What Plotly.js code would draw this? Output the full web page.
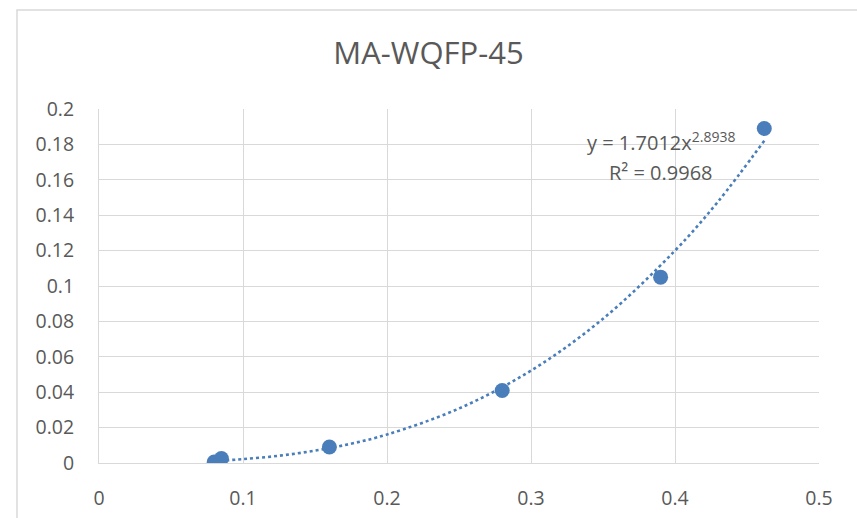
<!DOCTYPE html>
<html><head><meta charset="utf-8">
<script src="https://cdn.plot.ly/plotly-3.0.1.min.js"></script>
<style>html,body{margin:0;padding:0;background:#fff}#c{width:857px;height:518px}</style>
</head><body><div id="c"></div>
<script>
const xVals = [0.080, 0.085, 0.160, 0.280, 0.390, 0.462];
const yVals = [0.0005, 0.0025, 0.009, 0.041, 0.105, 0.189];
// trendline (power fit y = 1.7012x^2.8938)
const trendX = [0.08, 0.10, 0.125, 0.15, 0.175, 0.20, 0.25, 0.30, 0.35, 0.40, 0.43, 0.462];
const trendY = [0.0011, 0.0022, 0.0041, 0.0070, 0.0109, 0.0161, 0.0308, 0.0522, 0.0815, 0.1200, 0.1478, 0.1821];
const chartTitle = "MA-WQFP-45";
const eqText = "y = 1.7012x<sup>2.8938</sup>";
const r2Text = "R² = 0.9968";

const font = "Open Sans, Liberation Sans, sans-serif";
const data = [
  {x: trendX, y: trendY, mode: "lines", line: {color: "#4a7ebb", width: 2.6, dash: "dot", shape: "spline"}, hoverinfo: "skip"},
  {x: xVals, y: yVals, mode: "markers", marker: {color: "#4a7ebb", size: 15}}
];
const layout = {
  width: 857, height: 518, showlegend: false,
  paper_bgcolor: "#fff", plot_bgcolor: "#fff",
  margin: {l: 99, r: 38, t: 109, b: 55},
  title: {text: chartTitle, font: {family: font, size: 31, color: "#595959"}, x: 0.5, xanchor: "center", y: 0.897, yanchor: "middle"},
  xaxis: {range: [0, 0.5], dtick: 0.1, showgrid: true, gridcolor: "#d9d9d9", gridwidth: 1, zeroline: false,
          showline: true, linecolor: "#d9d9d9", mirror: false, ticks: "", ticklen: 0, ticklabelstandoff: 18,
          tickfont: {family: font, size: 19.5, color: "#595959"}, tickformat: "~g", fixedrange: true},
  yaxis: {range: [0, 0.2], dtick: 0.02, showgrid: true, gridcolor: "#d9d9d9", gridwidth: 1, zeroline: false,
          showline: true, linecolor: "#d9d9d9", ticks: "", ticklen: 0, ticklabelstandoff: 20,
          tickfont: {family: font, size: 19.5, color: "#595959"}, tickformat: "~g", fixedrange: true},
  shapes: [
    {type: "rect", xref: "paper", yref: "paper", x0: -0.1139, x1: 1.06, y0: -0.17, y1: 1.2797,
     line: {color: "#d9d9d9", width: 1.5}, fillcolor: "rgba(0,0,0,0)", layer: "below"}
  ],
  annotations: [
    {x: 0.3905, y: 0.1815, xref: "x", yref: "y", text: eqText, showarrow: false, xanchor: "center", yanchor: "middle",
     font: {family: font, size: 20, color: "#595959"}},
    {x: 0.3905, y: 0.1643, xref: "x", yref: "y", text: r2Text, showarrow: false, xanchor: "center", yanchor: "middle",
     font: {family: font, size: 20, color: "#595959"}}
  ]
};
Plotly.newPlot("c", data, layout, {displayModeBar: false, staticPlot: true});
</script></body></html>
